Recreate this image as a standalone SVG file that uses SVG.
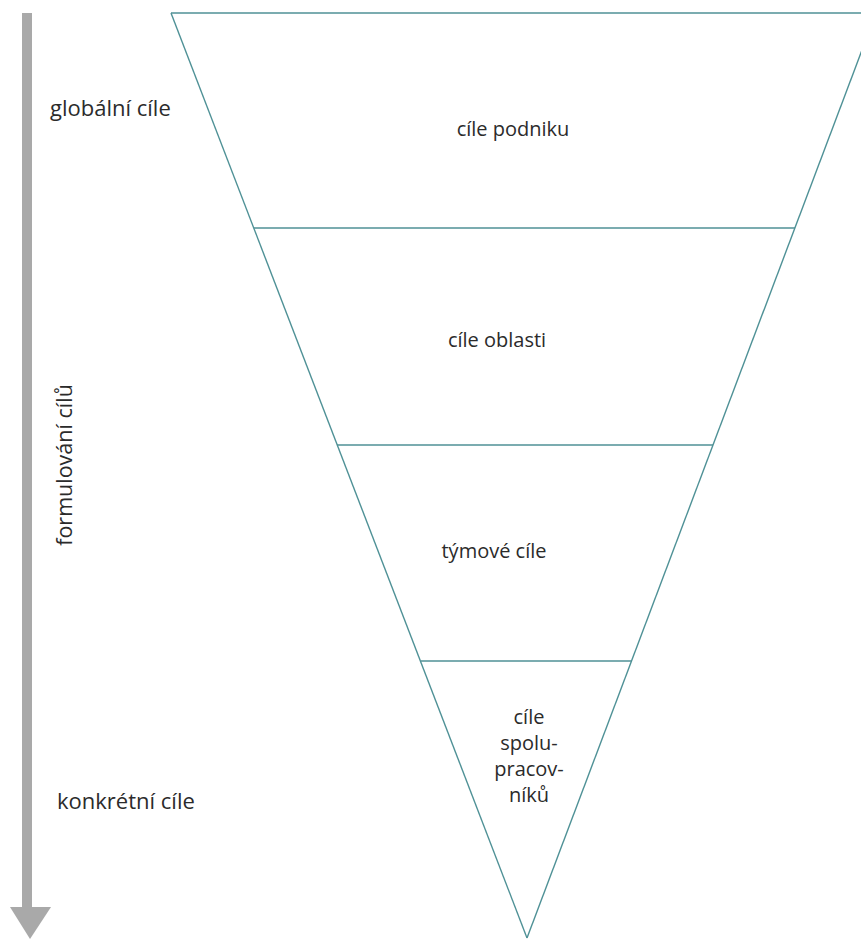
<svg xmlns="http://www.w3.org/2000/svg" width="861" height="942" viewBox="0 0 861 942">
<style>
.ln{stroke:#4f9196;stroke-width:1.4;fill:none}
.t{font-family:"Open Sans",sans-serif;font-size:20px;fill:#2b2b2b}
.s{font-size:22px}
.c{text-anchor:middle}
</style>
<rect width="861" height="942" fill="#fff"/>
<g id="arrow">
<rect x="22" y="13" width="10" height="897" fill="#a9a9a9"/>
<polygon points="10,907 51,907 30,939" fill="#a9a9a9"/>
</g>
<g id="labels">
<text class="t s" x="50" y="116">globální cíle</text>
<text class="t s" x="57" y="809">konkrétní cíle</text>
<text class="t c" style="font-size:21.5px" transform="translate(72,465) rotate(-90)">formulování cílů</text>
</g>
<g id="connectors">
<line class="ln" x1="171" y1="13" x2="861" y2="13"/>
<line class="ln" x1="171" y1="13" x2="527" y2="938"/>
<line class="ln" x1="876" y1="13" x2="527" y2="938"/>
<line class="ln" x1="254" y1="228" x2="795" y2="228"/>
<line class="ln" x1="337" y1="445" x2="713" y2="445"/>
<line class="ln" x1="421" y1="661" x2="632" y2="661"/>
</g>
<g id="tier1"><text class="t c" x="513" y="136">cíle podniku</text></g>
<g id="tier2"><text class="t c" x="497" y="347">cíle oblasti</text></g>
<g id="tier3"><text class="t c" x="494" y="558">týmové cíle</text></g>
<g id="tier4"><text class="t c" x="529" y="724">cíle<tspan x="529" dy="26">spolu-</tspan><tspan x="529" dy="26">pracov-</tspan><tspan x="529" dy="26">níků</tspan></text></g>
</svg>
